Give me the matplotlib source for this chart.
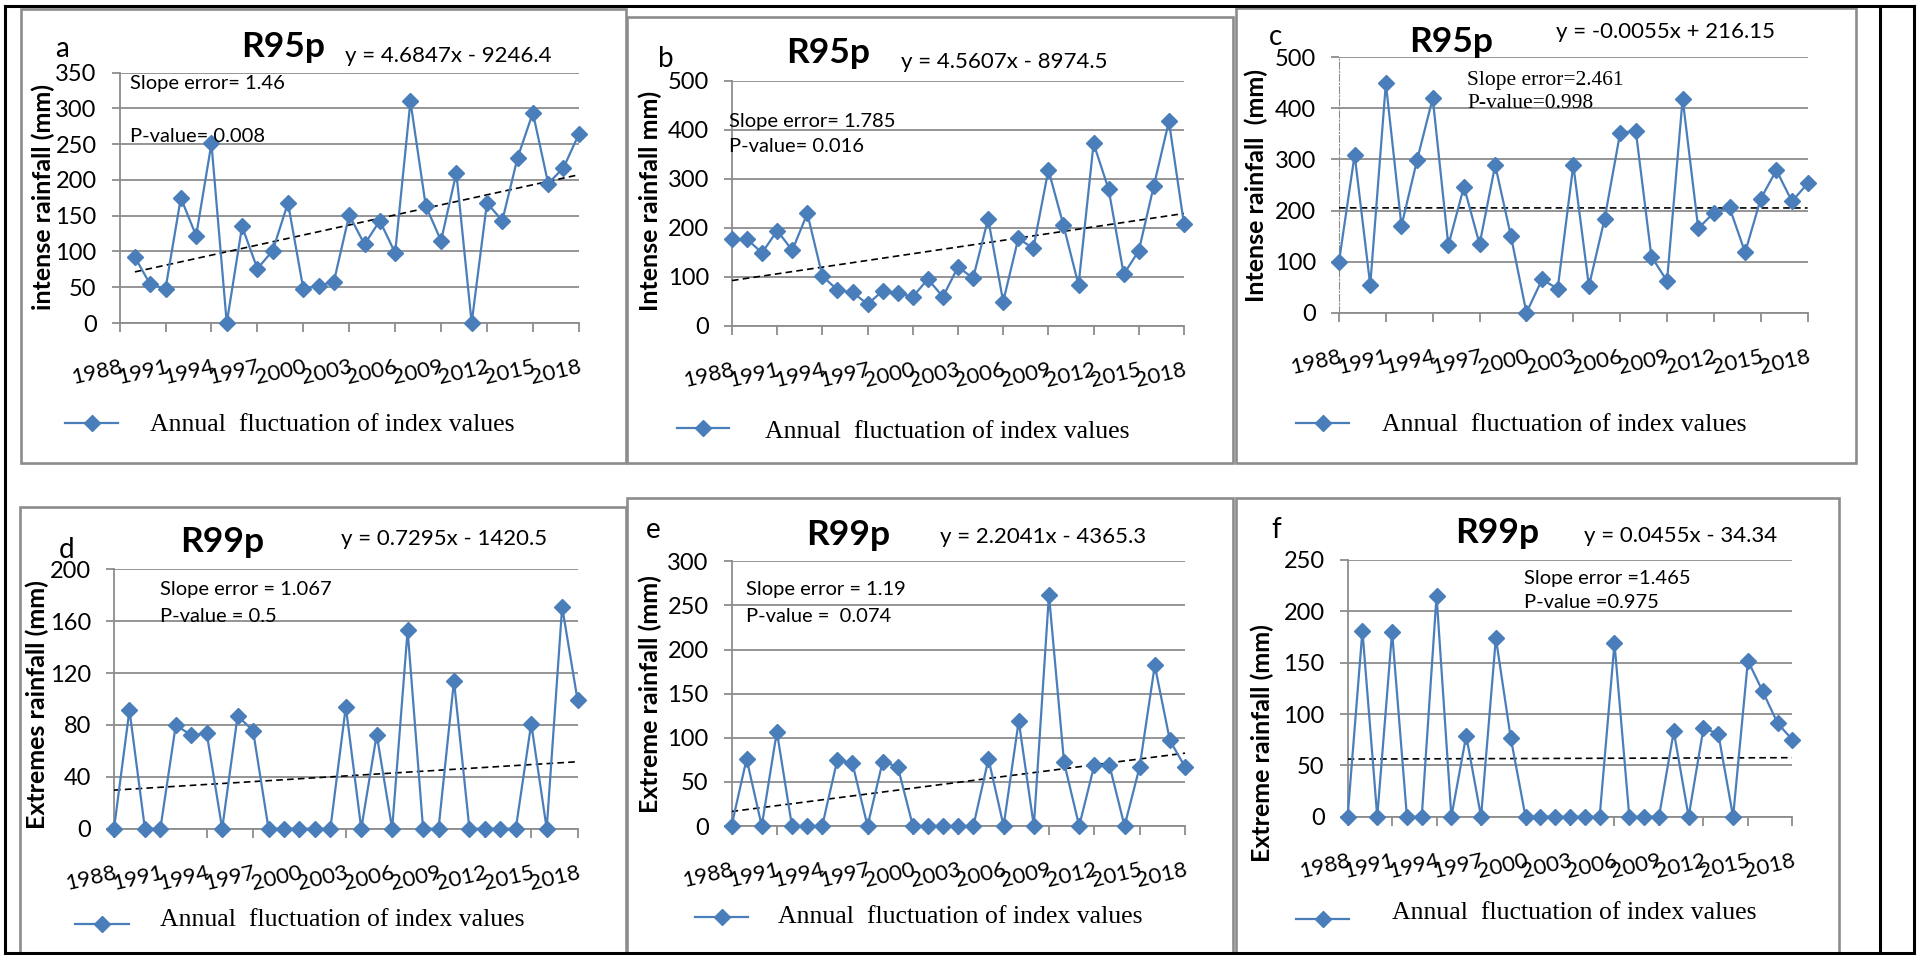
import matplotlib
matplotlib.use("Agg")
import matplotlib.pyplot as plt
from matplotlib.lines import Line2D
from matplotlib.patches import Rectangle

W, H = 1917, 955
DPI = 100

# ---- data -------------------------------------------------------------
years_a = list(range(1989, 2019))
years = list(range(1988, 2019))

r95_a = [92, 54, 48, 175, 122, 251, 0, 135, 76, 101, 168, 48, 52, 58, 151,
         110, 143, 98, 310, 164, 115, 210, 0, 168, 143, 231, 294, 195, 217, 264]
r95_b = [176, 176, 149, 194, 154, 229, 101, 73, 68, 44, 71, 66, 59, 95, 59,
         120, 97, 218, 49, 178, 158, 318, 205, 83, 372, 278, 105, 153, 286, 417, 207]
r95_c = [100, 309, 54, 449, 170, 299, 420, 132, 247, 134, 289, 151, 0, 65, 47,
         289, 52, 183, 352, 356, 110, 62, 419, 165, 196, 206, 118, 223, 279, 218, 253]
r99_d = [0, 91.5, 0, 0, 80, 72, 73.5, 0, 87, 75.5, 0, 0, 0, 0, 0,
         94, 0, 72.5, 0, 153, 0, 0, 114, 0, 0, 0, 0, 81, 0, 171, 99]
r99_e = [0, 76, 0, 107, 0, 0, 0, 75, 71, 0, 73, 67, 0, 0, 0,
         0, 0, 76, 0, 119, 0, 262, 72, 0, 69, 69, 0, 67, 182, 97, 67]
r99_f = [0, 181, 0, 180, 0, 0, 215, 0, 79, 0, 174, 77, 0, 0, 0,
         0, 0, 0, 169, 0, 0, 0, 83, 0, 86, 81, 0, 152, 122, 91, 75]

slopes = [4.6847, 4.5607, -0.0055, 0.7295, 2.2041, 0.0455]
intercepts = [-9246.4, -8974.5, 216.15, -1420.5, -4365.3, -34.34]
equations = ["y = 4.6847x - 9246.4", "y = 4.5607x - 8974.5", "y = -0.0055x + 216.15",
             "y = 0.7295x - 1420.5", "y = 2.2041x - 4365.3", "y = 0.0455x - 34.34"]
slope_errors = ["Slope error= 1.46", "Slope error= 1.785", "Slope error=2.461",
                "Slope error = 1.067", "Slope error = 1.19", "Slope error =1.465"]
p_values = ["P-value= 0.008", "P-value= 0.016", "P-value=0.998",
            "P-value = 0.5", "P-value =  0.074", "P-value =0.975"]
titles = ["R95p", "R95p", "R95p", "R99p", "R99p", "R99p"]
letters = ["a", "b", "c", "d", "e", "f"]
ylabels = ["intense rainfall (mm)", "Intense rainfall mm)", "Intense rainfall  (mm)",
           "Extremes rainfall (mm)", "Extreme rainfall (mm)", "Extreme rainfall (mm)"]
ymax = [350, 500, 500, 200, 300, 250]
ystep = [50, 100, 100, 40, 50, 50]
xtick_years = list(range(1988, 2019, 3))
legend_text = "Annual  fluctuation of index values"

series = [(years_a, r95_a), (years, r95_b), (years, r95_c),
          (years, r99_d), (years, r99_e), (years, r99_f)]

# ---- layout (pixels) --------------------------------------------------
boxes = [(21, 9, 626, 463), (627, 17, 1233, 463), (1236, 8, 1856, 463),
         (20, 507, 626, 953), (627, 498, 1233, 953), (1236, 498, 1839, 953)]
# plot area: x of 1988, x of 2018, y of zero, y of top
areas = [(119.6, 578.8, 323, 72.7), (732, 1184, 325.7, 80.7), (1339, 1807.6, 312.7, 57.3),
         (114, 577.6, 828.7, 569.3), (731.5, 1185, 826, 561.3), (1347.6, 1792.4, 816.7, 560)]
letter_pos = [(55, 57), (658, 67), (1269, 45), (59, 558), (646, 538), (1271, 538)]
title_pos = [(241, 57), (786, 63), (1409, 52), (180, 552), (806, 545), (1455, 543)]
eq_pos = [(345, 62), (901, 68), (1556, 38), (341, 545), (940, 543), (1584, 542)]
stat_pos = [(130, 83, 136), (729, 121, 147), (1467, 80, 104),
            (160, 590, 616), (746, 590, 616), (1524, 578, 603)]
ylabel_pos = [(43, 197), (650, 201), (1256, 186), (37, 705), (650, 694), (1262, 743)]
leg_pos = [(65, 118, 423, 150, 425), (677, 729, 428, 765, 432), (1296, 1349, 423, 1382, 425),
           (75, 129, 924, 160, 920), (695, 748, 917, 778, 917), (1296, 1349, 919, 1392, 913)]

SANS = ["Lato", "DejaVu Sans"]
SERIF = ["Liberation Serif", "DejaVu Serif"]
BLUE = "#4A7EBB"
GRID = "#8C8C8C"


def fx(x):
    return x / W


def fy(y):
    return 1 - y / H


fig = plt.figure(figsize=(W / DPI, H / DPI), dpi=DPI)
fig.patch.set_facecolor("white")

# table frame
for xs, ys in [((5, 1914), (6, 6)), ((5, 1914), (953, 953)), ((5, 5), (6, 953)),
               ((1914, 1914), (6, 953)), ((1880, 1880), (6, 953))]:
    fig.add_artist(Line2D([fx(v) for v in xs], [fy(v) for v in ys],
                          transform=fig.transFigure, color="black", lw=2.2))

for i in range(6):
    bx0, by0, bx1, by1 = boxes[i]
    fig.add_artist(Rectangle((fx(bx0), fy(by1)), fx(bx1) - fx(bx0), fy(by0) - fy(by1),
                             transform=fig.transFigure, fill=False,
                             edgecolor=GRID, lw=1.9, zorder=0))

    x0, x1, yz, yt = areas[i]
    ax = fig.add_axes([fx(x0), fy(yz), fx(x1) - fx(x0), fy(yt) - fy(yz)])
    ax.set_xlim(1988, 2018)
    ax.set_ylim(0, ymax[i])
    ax.set_facecolor("none")
    for s in ("top", "right"):
        ax.spines[s].set_visible(False)
    ax.spines["bottom"].set_color(GRID)
    ax.spines["bottom"].set_linewidth(1.3)
    ax.spines["left"].set_color(GRID)
    ax.spines["left"].set_linewidth(1.3)
    if i == 2:
        ax.spines["left"].set_linestyle((0, (6, 2, 1, 2)))
        ax.spines["left"].set_linewidth(0.8)
    ax.set_yticks(list(range(0, ymax[i] + 1, ystep[i])))
    ax.yaxis.grid(True, color=GRID, lw=1.3)
    ax.set_axisbelow(True)
    ax.set_xticks(xtick_years)
    ax.set_xticklabels([str(v) for v in xtick_years], rotation=13, ha="right",
                       rotation_mode="anchor", family=SANS, fontsize=16)
    ax.tick_params(axis="x", direction="out", length=6.5, width=1.3, color=GRID, pad=18)
    ax.tick_params(axis="y", direction="out", length=5.5, width=1.3, color=GRID, pad=11,
                   labelsize=17)
    for lab in ax.get_yticklabels():
        lab.set_family(SANS)

    xs, vals = series[i]
    ax.plot(xs, vals, color=BLUE, lw=1.6, marker="D", markersize=8.5,
            markeredgecolor=BLUE, clip_on=False, zorder=5)
    tx = [xs[0], xs[-1]]
    ty = [slopes[i] * v + intercepts[i] for v in tx]
    ax.plot(tx, ty, color="black", lw=1.2, ls=(0, (4, 2.5)), zorder=4)

    lx, ly = letter_pos[i]
    fig.text(fx(lx), fy(ly), letters[i], family=SANS, fontsize=20, ha="left", va="baseline")
    tx_, ty_ = title_pos[i]
    fig.text(fx(tx_), fy(ty_), titles[i], family=SANS, fontsize=25.5, fontweight="bold",
             ha="left", va="baseline")
    ex, ey = eq_pos[i]
    fig.text(fx(ex), fy(ey), equations[i], family=SANS, fontsize=16, ha="left", va="baseline")
    sx, sy1, sy2 = stat_pos[i]
    fam = SERIF if i == 2 else SANS
    fs = 15.5 if i == 2 else 14.5
    fig.text(fx(sx), fy(sy1), slope_errors[i], family=fam, fontsize=fs, ha="left", va="center")
    fig.text(fx(sx), fy(sy2), p_values[i], family=fam, fontsize=fs, ha="left", va="center")
    yx, yy = ylabel_pos[i]
    fig.text(fx(yx), fy(yy), ylabels[i], family=SANS, fontsize=18, fontweight="bold",
             rotation=90, ha="center", va="center")

    la, lb, lyy, ltx, lty = leg_pos[i]
    fig.add_artist(Line2D([fx(la), fx((la + lb) / 2), fx(lb)], [fy(lyy)] * 3,
                          transform=fig.transFigure, color=BLUE, lw=1.6, marker="D",
                          markersize=8.5, markevery=[1]))
    fig.text(fx(ltx), fy(lty), legend_text, family=SERIF, fontsize=18.5, ha="left", va="center")

fig.savefig("out.png", dpi=DPI, facecolor="white")
